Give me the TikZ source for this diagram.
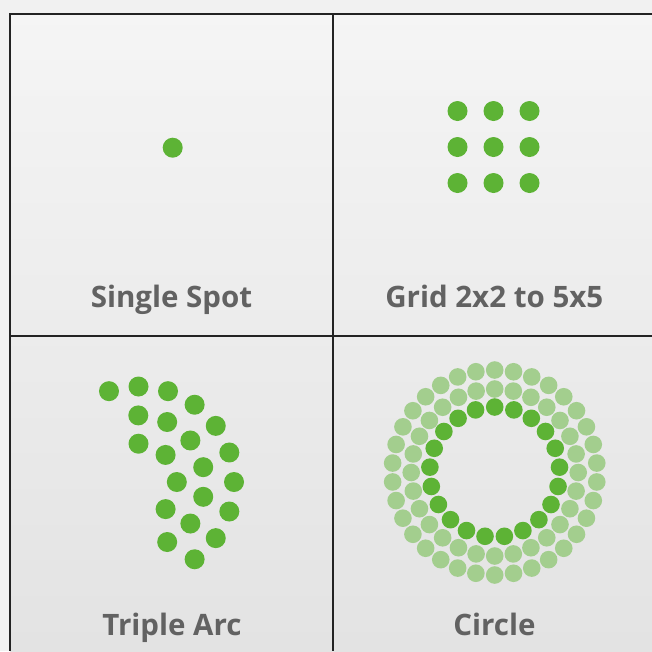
\documentclass[tikz,border=0pt]{standalone}
\usepackage{fontspec}
\newfontfamily\etiqfont{Open Sans}
\usetikzlibrary{positioning}
\definecolor{verde}{HTML}{5DB335}
\definecolor{verdeclaro}{HTML}{A3CE8E}
\definecolor{gristexto}{HTML}{626262}
\definecolor{linea}{HTML}{232323}
\definecolor{fondo}{HTML}{F1F1F1}

\begin{document}
\begin{tikzpicture}[x=1pt, y=-1pt,
  punto/.style={fill=verde},
  puntoclaro/.style={fill=verdeclaro},
  rejilla/.style={draw=linea, line width=2pt},
  etiq/.style={anchor=base, inner sep=0pt, text=gristexto,
    font=\etiqfont\bfseries\fontsize{29.5}{36}\selectfont}]
  \useasboundingbox[fill=fondo] (0,0) rectangle (652,651);
  \shade[top color=black!4, bottom color=black!11] (10,13.5) rectangle (652,651);
  % single spot
  \fill[punto] (172.7,147.7) circle[radius=10pt];
  % grid 3x3
  \foreach \i in {0,1,2}
    \foreach \j in {0,1,2}
      \fill[punto] (457.5+36*\i, 111+36*\j) circle[radius=10pt];
  % triple arc
  \foreach \a in {108,90,...,-54}
    \fill[punto] ({138.5+95.5*cos(\a)}, {482-95.5*sin(\a)}) circle[radius=10pt];
  \foreach \k in {0,...,6}
    \fill[punto] ({138.3+66.6*cos(90-25.714*\k)}, {482-66.6*sin(90-25.714*\k)}) circle[radius=10pt];
  \foreach \a in {90,45,0,-45}
    \fill[punto] ({138.5+38.3*cos(\a)}, {482-38.3*sin(\a)}) circle[radius=10pt];
  % circle
  \foreach \k in {0,...,33}
    \fill[puntoclaro] ({494.7+102.5*cos(90+360/34*\k)}, {472.5-102.5*sin(90+360/34*\k)}) circle[radius=8.8pt];
  \foreach \k in {0,...,27}
    \fill[puntoclaro] ({494.7+83.5*cos(90+360/28*\k)}, {472.5-83.5*sin(90+360/28*\k)}) circle[radius=8.8pt];
  \foreach \k in {0,...,20}
    \fill[punto] ({494.7+65*cos(90+360/21*\k)}, {472-65*sin(90+360/21*\k)}) circle[radius=8.8pt];
  % frame
  \draw[rejilla] (652,13.5) -- (10,13.5) -- (10,651);
  \draw[rejilla] (333,13.5) -- (333,651);
  \draw[rejilla] (10,336.3) -- (652,336.3);
  % labels
  \node[etiq] (spot) at (171.5,307) {Single Spot};
  \node[etiq] (grid) at (494.3,307) {Grid 2x2 to 5x5};
  \node[etiq] (arc) at (172,635) {Triple Arc};
  \node[etiq] (circ) at (494.5,635) {Circle};
\end{tikzpicture}
\end{document}
